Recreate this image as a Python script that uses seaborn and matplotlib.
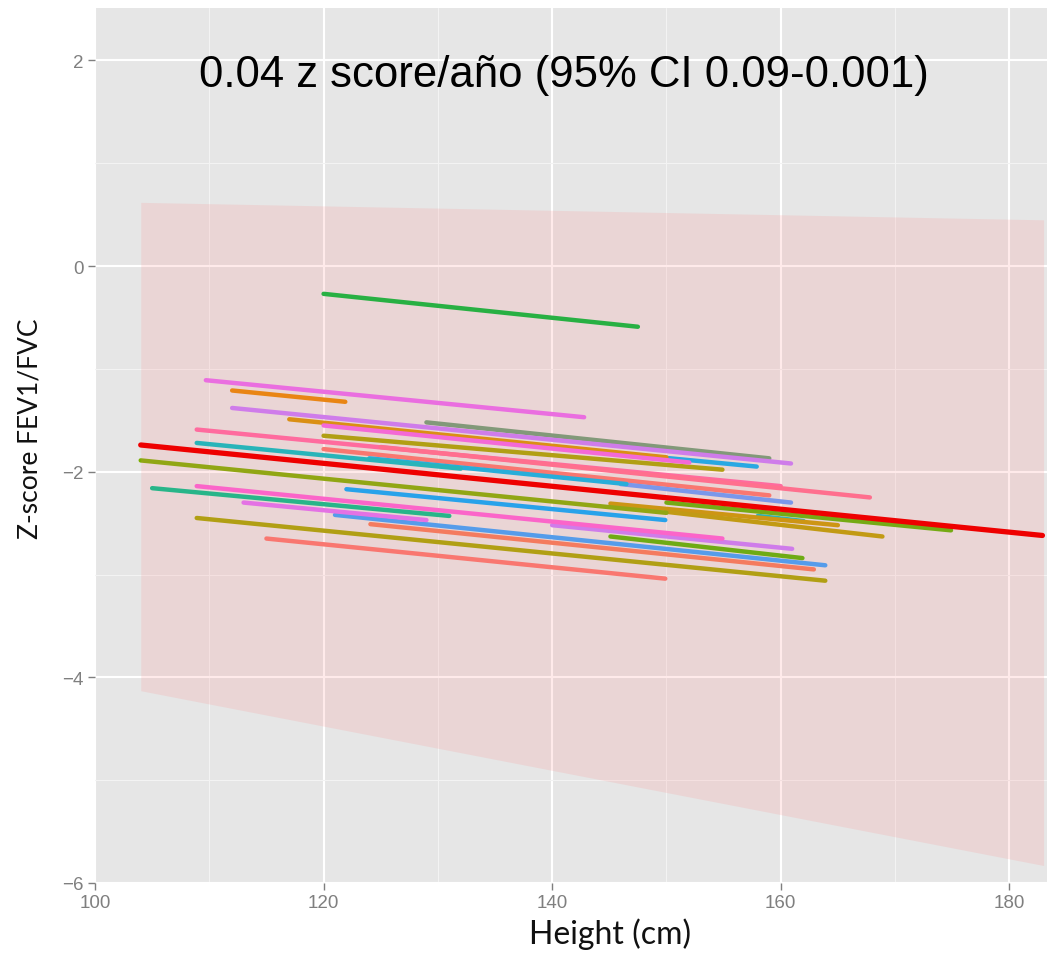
import matplotlib
matplotlib.use("Agg")
import matplotlib.pyplot as plt
import numpy as np
import pandas as pd
import seaborn as sns

# Individual subject trajectories: colour, start/end height (cm), start/end z-score
seg_colors = [
    "#F8766D", "#A3A500", "#F37B59", "#35A2FF", "#53B400", "#C77CFF",
    "#FB61D7", "#DF70F8", "#00C08B", "#00A9FF", "#00BFC4", "#C49A00",
    "#B79F00", "#7CAE00", "#5BB300", "#F8766D", "#00B0F6", "#619CFF",
    "#00B6EB", "#00BFC4", "#FF67A4", "#FF6C91", "#A3A500", "#D39200",
    "#F265E7", "#6B9E78", "#C77CFF", "#E58700", "#E76BF3", "#00BA38",
]
height_start = [
    115.0, 108.9, 124.1, 121.0, 145.1, 140.0,
    108.9, 113.0, 105.0, 122.0, 158.0, 145.1,
    150.0, 104.0, 150.0, 120.0, 140.0, 146.0,
    124.0, 108.9, 108.9, 125.0, 120.0, 117.0,
    120.0, 129.0, 112.0, 112.0, 109.7, 120.0,
]
height_end = [
    149.9, 163.9, 162.9, 163.9, 161.9, 161.0,
    154.9, 129.0, 131.0, 149.9, 162.0, 165.0,
    168.9, 150.0, 174.9, 159.0, 157.9, 160.9,
    146.5, 132.0, 160.0, 167.8, 154.9, 150.0,
    152.0, 159.0, 160.9, 121.9, 142.8, 147.5,
]
z_start = [
    -2.65, -2.45, -2.51, -2.42, -2.63, -2.52,
    -2.14, -2.30, -2.16, -2.17, -2.43, -2.31,
    -2.39, -1.89, -2.30, -1.78, -1.76, -2.12,
    -1.87, -1.72, -1.59, -1.76, -1.65, -1.49,
    -1.55, -1.52, -1.38, -1.21, -1.11, -0.27,
]
z_end = [
    -3.04, -3.06, -2.95, -2.91, -2.84, -2.75,
    -2.65, -2.47, -2.43, -2.47, -2.48, -2.52,
    -2.63, -2.40, -2.57, -2.23, -1.95, -2.30,
    -2.12, -1.97, -2.14, -2.25, -1.98, -1.86,
    -1.91, -1.87, -1.92, -1.32, -1.47, -0.59,
]

# Population fit and its interval band
fit_height = [104.0, 182.9]
fit_z = [-1.74, -2.62]
band_height = [104.0, 183.0]
band_low = [-4.13, -5.83]
band_high = [0.62, 0.45]

x_ticks = [100, 120, 140, 160, 180]
y_ticks = [-6, -4, -2, 0, 2]
annotation = "0.04 z score/año (95% CI 0.09-0.001)"

# Long table: one row per segment end
rows = []
for i in range(len(seg_colors)):
    rows.append({"seg": i, "height": height_start[i], "z": z_start[i]})
    rows.append({"seg": i, "height": height_end[i], "z": z_end[i]})
df = pd.DataFrame(rows)
palette = {i: c for i, c in enumerate(seg_colors)}

sns.set_theme(style="darkgrid", rc={
    "axes.facecolor": "#E6E6E6",
    "grid.color": "white",
    "axes.edgecolor": "none",
})
plt.rcParams["font.family"] = ["Liberation Sans", "DejaVu Sans"]

fig = plt.figure(figsize=(10.52, 9.54), dpi=100)
ax = fig.add_axes([95 / 1052, 1 - 884 / 954, 952 / 1052, 875 / 954])

sns.lineplot(data=df, x="height", y="z", hue="seg", palette=palette,
             hue_order=list(range(len(seg_colors))), units="seg",
             estimator=None, sort=False, legend=False, linewidth=3.2,
             ax=ax, zorder=3)

ax.fill_between(band_height, band_low, band_high, color=(1.0, 0.5, 0.5),
                alpha=0.16, linewidth=0, zorder=4)

sns.lineplot(x=fit_height, y=fit_z, color="#EE0000", linewidth=3.8,
             ax=ax, zorder=5)

ax.set_xlim(100, 183.3)
ax.set_ylim(-6, 2.51)
ax.set_xticks(x_ticks)
ax.set_yticks(y_ticks)
ax.set_xticks([110, 130, 150, 170], minor=True)
ax.set_yticks([-5, -3, -1, 1], minor=True)
ax.grid(which="major", color="white", linewidth=1.5)
ax.grid(which="minor", color="#F3F3F3", linewidth=0.8)
ax.set_axisbelow(True)

ax.tick_params(axis="both", which="major", length=5, width=1.0,
               color="#7F7F7F", labelcolor="#7F7F7F", labelsize=13.5,
               pad=3, bottom=True, left=True)
ax.tick_params(which="minor", length=0)

ax.text(141.0, 1.86, annotation, ha="center", va="center",
        fontsize=31.5, color="black", family=["Liberation Sans", "DejaVu Sans"])

ax.set_xlabel("Height (cm)", family=["Lato", "DejaVu Sans"], fontsize=23,
              color="#111111")
ax.set_ylabel("Z-score FEV1/FVC", family=["Lato", "DejaVu Sans"],
              fontsize=19, color="#111111")
ax.xaxis.set_label_coords(0.541, -0.057)
ax.xaxis.label.set_va("center")
ax.yaxis.set_label_coords(-0.068, 0.52)
ax.yaxis.label.set_va("center")

fig.savefig("out.png", dpi=100)
